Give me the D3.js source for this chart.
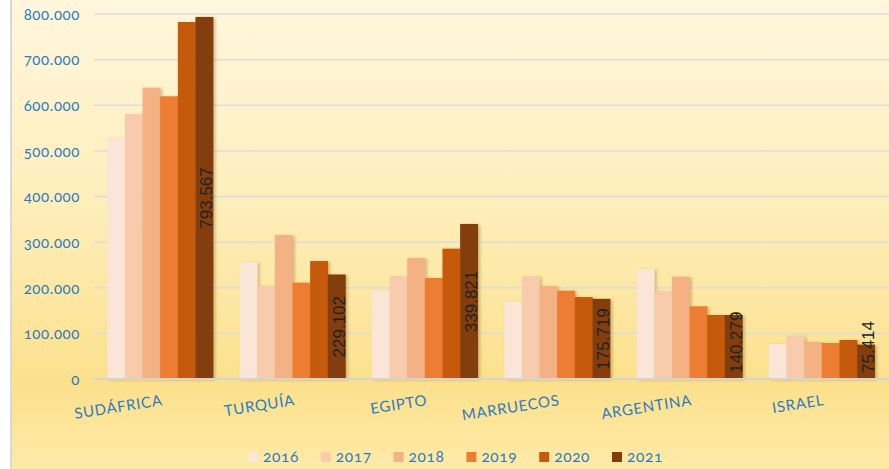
<!DOCTYPE html>
<html><head><meta charset="utf-8">
<script src="https://cdn.jsdelivr.net/npm/d3@7"></script>
<style>
html,body{margin:0;padding:0;background:#fff;}
svg{display:block;}
.tick-lbl{font-family:Lato,"Open Sans",sans-serif;font-variant-numeric:oldstyle-nums;}
</style></head>
<body>
<script>
const categories = ["SUDÁFRICA","TURQUÍA","EGIPTO","MARRUECOS","ARGENTINA","ISRAEL"];
const years = ["2016","2017","2018","2019","2020","2021"];
const v2016 = [527600, 256400, 193600, 169400, 241100, 76700];
const v2017 = [580800, 203800, 225800, 225100, 192200, 94900];
const v2018 = [638500, 315600, 265200, 203800, 224300, 81100];
const v2019 = [619600, 211100, 221400, 193600, 159300, 78900];
const v2020 = [782500, 258600, 285600, 179700, 140300, 85500];
const v2021 = [793567, 229102, 339821, 175719, 140279, 75414];
const yTicks = [0,100000,200000,300000,400000,500000,600000,700000,800000];
const colors = ["#FBE5D6","#F8CBAD","#F4B183","#ED7D31","#C55A11","#843C0C"];

const series = [v2016,v2017,v2018,v2019,v2020,v2021];
const W = 889, H = 469;
const svg = d3.select("body").append("svg").attr("width",W).attr("height",H);
const defs = svg.append("defs");
const grad = defs.append("linearGradient").attr("id","bg").attr("x1",0).attr("y1",0).attr("x2",0).attr("y2",1);
[["0%","#FFF6DC"],["40%","#FEEFBE"],["82%","#FCE08C"],["100%","#FEEAA8"]].forEach(s=>grad.append("stop").attr("offset",s[0]).attr("stop-color",s[1]));
const f = defs.append("filter").attr("id","sh").attr("x","-20%").attr("y","-5%").attr("width","150%").attr("height","115%");
f.append("feDropShadow").attr("dx",2).attr("dy",1).attr("stdDeviation",1.5).attr("flood-color","#7a5a1a").attr("flood-opacity",0.35);

svg.append("rect").attr("x",11).attr("y",0).attr("width",W-11).attr("height",H).attr("fill","url(#bg)");
svg.append("line").attr("x1",11).attr("x2",11).attr("y1",0).attr("y2",H).attr("stroke","#D9D9D9").attr("stroke-width",2);

const x0 = d3.scaleBand().domain(categories).range([94,888]).paddingInner(0.2).paddingOuter(0.1);
const x1 = d3.scaleBand().domain(years).range([0,x0.bandwidth()]);
const y = d3.scaleLinear().domain([0,800000]).range([379,14]);

// grid
svg.append("g").selectAll("line").data(yTicks.filter(t=>t>0)).join("line")
  .attr("x1",94).attr("x2",W).attr("y1",d=>y(d)).attr("y2",d=>y(d))
  .attr("stroke","#DCDCDC").attr("stroke-width",1.5);

// y axis labels
const fmt = d => d3.format(",")(d).replace(/,/g,".");
const yAxis = d3.axisLeft(y).tickValues(yTicks).tickSize(0).tickPadding(0).tickFormat(d=> d===0 ? "0" : fmt(d));
const ga = svg.append("g").attr("transform","translate(80,0)").call(yAxis);
ga.select(".domain").remove();
ga.selectAll("text").attr("class","tick-lbl").attr("fill","#2E7BBF").attr("font-size",15).attr("letter-spacing",0.6).attr("dy","0.35em");

// bars
const groups = svg.append("g").selectAll("g").data(categories).join("g")
  .attr("transform",d=>`translate(${x0(d)},0)`);
groups.selectAll("rect").data((c,i)=>years.map((yr,j)=>({yr,j,v:series[j][i]}))).join("rect")
  .attr("x",d=>x1(d.yr)).attr("width",x1.bandwidth()+0.3)
  .attr("y",d=>y(d.v)).attr("height",d=>y(0)-y(d.v))
  .attr("fill",d=>colors[d.j]).attr("filter","url(#sh)");

// baseline
svg.append("line").attr("x1",94).attr("x2",W).attr("y1",y(0)).attr("y2",y(0)).attr("stroke","#D4D4D4").attr("stroke-width",2);

// data labels (2021)
const lbl = svg.append("g").selectAll("text").data(categories).join("text")
  .attr("font-family","'Liberation Sans Narrow','Liberation Sans',sans-serif")
  .attr("font-size",17).attr("fill","#222").attr("text-anchor","middle")
  .text((c,i)=>fmt(v2021[i]));
lbl.each(function(c,i){
  const len = this.getComputedTextLength();
  const top = y(v2021[i]);
  let cy = (top + y(0))/2;
  cy = Math.min(cy, y(0) - len/2 - 6);
  const cx = x0(c) + x1("2021") + x1.bandwidth()/2 + 2;
  d3.select(this).attr("transform",`translate(${cx},${cy}) rotate(-90)`).attr("dy","0.35em");
});

// category labels
svg.append("g").selectAll("text").data(categories).join("text")
  .attr("class","tick-lbl")
  .attr("font-size",15).attr("fill","#2E7BBF").attr("letter-spacing",0.7)
  .attr("text-anchor","end")
  .attr("transform",d=>`translate(${x0(d)+x0.bandwidth()/2+3},405) rotate(-9)`)
  .text(d=>d);

// legend
const leg = svg.append("g").selectAll("g").data(years).join("g")
  .attr("transform",(d,i)=>`translate(${248 + i*72.8},457)`);
leg.append("rect").attr("x",0).attr("y",-5).attr("width",10).attr("height",10).attr("fill",(d,i)=>colors[i]);
leg.append("text").attr("class","tick-lbl").attr("x",15).attr("dy","0.35em").attr("font-size",15.5)
  .attr("letter-spacing",0.6).attr("fill","#2E7BBF").text(d=>d);
</script>
</body></html>
